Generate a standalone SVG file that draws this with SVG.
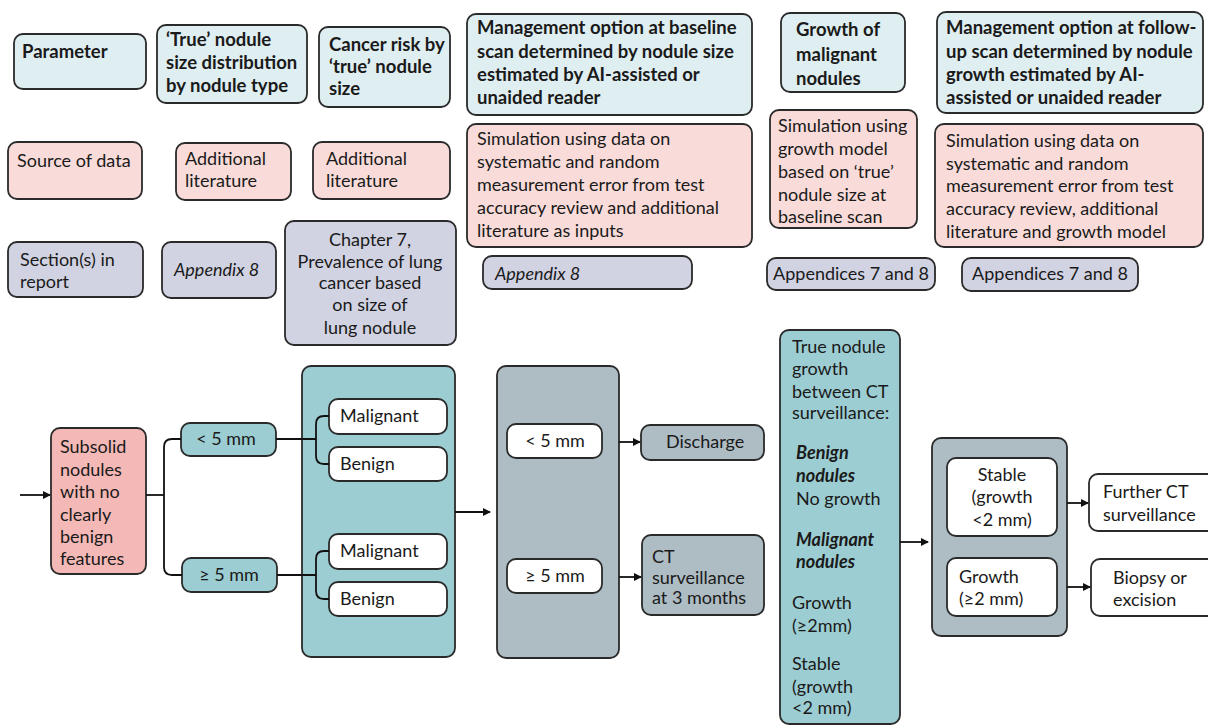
<svg xmlns="http://www.w3.org/2000/svg" width="1208" height="726" viewBox="0 0 1208 726">
<defs>
<marker id="ah" markerWidth="8" markerHeight="8" refX="7" refY="4" orient="auto" markerUnits="userSpaceOnUse">
<path d="M0,0 L8,4 L0,8 Z" fill="#111"/>
</marker>
<style>
.b{stroke:#2a2a2a;stroke-width:1.8}
.par{fill:#dfeef1}
.src{fill:#f9dcd9}
.sec{fill:#d1d3e2}
.teal{fill:#9ccdd2}
.gray{fill:#aebcc3}
.wh{fill:#ffffff}
.sub{fill:#f4b9b6}
text{font-family:Lato,"Noto Sans","Liberation Sans",sans-serif;font-size:18px;fill:#1a1a1a}
.bd{font-weight:bold;font-size:18.5px}
.it{font-style:italic}
.bi{font-weight:bold;font-style:italic}
.c{text-anchor:middle}
.ln{fill:none;stroke:#111;stroke-width:1.8}
</style>
</defs>
<rect width="1208" height="726" fill="#ffffff"/>

<!-- Row 1: parameters -->
<g id="p-parameter"><rect class="b par" x="14" y="34" width="132" height="55" rx="9"/><text class="bd" x="22" y="58">Parameter</text></g>
<g id="p-true"><rect class="b par" x="157" y="25" width="150" height="78" rx="9"/><text class="bd" x="166" y="46">‘True’ nodule<tspan x="166" y="69">size distribution</tspan><tspan x="166" y="92">by nodule type</tspan></text></g>
<g id="p-cancer"><rect class="b par" x="319" y="27" width="131" height="80" rx="9"/><text class="bd" x="329" y="51">Cancer risk by<tspan x="329" y="73">‘true’ nodule</tspan><tspan x="329" y="95">size</tspan></text></g>
<g id="p-mgmt1"><rect class="b par" x="467" y="14" width="285" height="101" rx="9"/><text class="bd" x="477" y="34">Management option at baseline<tspan x="477" y="58">scan determined by nodule size</tspan><tspan x="477" y="81">estimated by AI-assisted or</tspan><tspan x="477" y="104">unaided reader</tspan></text></g>
<g id="p-growth"><rect class="b par" x="781" y="13" width="124" height="79" rx="9"/><text class="bd" x="796" y="36">Growth of<tspan x="796" y="61">malignant</tspan><tspan x="796" y="85">nodules</tspan></text></g>
<g id="p-mgmt2"><rect class="b par" x="937" y="12" width="266" height="101" rx="9"/><text class="bd" x="946" y="34">Management option at follow-<tspan x="946" y="58">up scan determined by nodule</tspan><tspan x="946" y="81">growth estimated by AI-</tspan><tspan x="946" y="104">assisted or unaided reader</tspan></text></g>

<!-- Row 2: sources -->
<g id="s-source"><rect class="b src" x="8" y="142" width="134" height="57" rx="9"/><text x="17" y="167">Source of data</text></g>
<g id="s-lit1"><rect class="b src" x="176" y="143" width="115" height="57" rx="9"/><text x="185" y="165">Additional<tspan x="185" y="187">literature</tspan></text></g>
<g id="s-lit2"><rect class="b src" x="313" y="142" width="137" height="57" rx="9"/><text x="326" y="165">Additional<tspan x="326" y="187">literature</tspan></text></g>
<g id="s-sim1"><rect class="b src" x="467" y="124" width="285" height="123" rx="9"/><text x="477" y="145">Simulation using data on<tspan x="477" y="168">systematic and random</tspan><tspan x="477" y="191">measurement error from test</tspan><tspan x="477" y="214">accuracy review and additional</tspan><tspan x="477" y="237">literature as inputs</tspan></text></g>
<g id="s-sim2"><rect class="b src" x="770" y="110" width="147" height="118" rx="9"/><text x="778" y="132">Simulation using<tspan x="778" y="155">growth model</tspan><tspan x="778" y="178">based on ‘true’</tspan><tspan x="778" y="201">nodule size at</tspan><tspan x="778" y="223">baseline scan</tspan></text></g>
<g id="s-sim3"><rect class="b src" x="935" y="124" width="268" height="123" rx="9"/><text x="946" y="147">Simulation using data on<tspan x="946" y="170">systematic and random</tspan><tspan x="946" y="192">measurement error from test</tspan><tspan x="946" y="215">accuracy review, additional</tspan><tspan x="946" y="238">literature and growth model</tspan></text></g>

<!-- Row 3: sections -->
<g id="r-section"><rect class="b sec" x="8" y="242" width="135" height="55" rx="9"/><text x="20" y="266">Section(s) in<tspan x="20" y="288">report</tspan></text></g>
<g id="r-app8a"><rect class="b sec" x="162" y="242" width="114" height="56" rx="9"/><text class="it" x="174" y="276">Appendix 8</text></g>
<g id="r-ch7"><rect class="b sec" x="285" y="221" width="171" height="124" rx="9"/><text class="c" x="370" y="246">Chapter 7,<tspan x="370" y="268">Prevalence of lung</tspan><tspan x="370" y="289">cancer based</tspan><tspan x="370" y="311">on size of</tspan><tspan x="370" y="334">lung nodule</tspan></text></g>
<g id="r-app8b"><rect class="b sec" x="483" y="256" width="209" height="33" rx="9"/><text class="it" x="495" y="280">Appendix 8</text></g>
<g id="r-app78a"><rect class="b sec" x="767" y="258" width="168" height="32" rx="9"/><text class="c" x="851" y="280">Appendices 7 and 8</text></g>
<g id="r-app78b"><rect class="b sec" x="962" y="258" width="176" height="33" rx="9"/><text class="c" x="1050" y="280">Appendices 7 and 8</text></g>

<!-- Flow nodes -->
<g id="n-subsolid"><rect class="b sub" x="51" y="428" width="95" height="146" rx="9"/><text x="60" y="453">Subsolid<tspan x="60" y="476">nodules</tspan><tspan x="60" y="498">with no</tspan><tspan x="60" y="521">clearly</tspan><tspan x="60" y="543">benign</tspan><tspan x="60" y="565">features</tspan></text></g>
<g id="n-lt5"><rect class="b teal" x="181" y="423" width="95" height="33" rx="9"/><text class="c" x="226" y="445">&lt; 5 mm</text></g>
<g id="n-ge5"><rect class="b teal" x="182" y="558" width="95" height="34" rx="9"/><text class="c" x="229" y="581">≥ 5 mm</text></g>
<g id="n-truetype"><rect class="b teal" x="302" y="366" width="153" height="291" rx="9"/></g>
<g id="n-mal1"><rect class="b wh" x="329" y="399" width="118" height="35" rx="9"/><text x="340" y="422">Malignant</text></g>
<g id="n-ben1"><rect class="b wh" x="329" y="447" width="118" height="34" rx="9"/><text x="340" y="470">Benign</text></g>
<g id="n-mal2"><rect class="b wh" x="329" y="534" width="118" height="35" rx="9"/><text x="340" y="557">Malignant</text></g>
<g id="n-ben2"><rect class="b wh" x="329" y="582" width="118" height="34" rx="9"/><text x="340" y="605">Benign</text></g>
<g id="n-measured"><rect class="b gray" x="497" y="366" width="122" height="292" rx="9"/></g>
<g id="n-mlt5"><rect class="b wh" x="507" y="424" width="95" height="34" rx="9"/><text class="c" x="555" y="447">&lt; 5 mm</text></g>
<g id="n-mge5"><rect class="b wh" x="507" y="559" width="95" height="34" rx="9"/><text class="c" x="555" y="582">≥ 5 mm</text></g>
<g id="n-discharge"><rect class="b gray" x="641" y="425" width="123" height="35" rx="9"/><text x="666" y="448">Discharge</text></g>
<g id="n-ct3"><rect class="b gray" x="642" y="535" width="122" height="80" rx="9"/><text x="652" y="563">CT<tspan x="652" y="584">surveillance</tspan><tspan x="652" y="604">at 3 months</tspan></text></g>
<g id="n-truegrowth"><rect class="b teal" x="780" y="330" width="120" height="394" rx="9"/><text x="792" y="353">True nodule<tspan x="792" y="375">growth</tspan><tspan x="792" y="398">between CT</tspan><tspan x="792" y="419">surveillance:</tspan><tspan class="bi" x="796" y="459">Benign</tspan><tspan class="bi" x="796" y="482">nodules</tspan><tspan x="796" y="505">No growth</tspan><tspan class="bi" x="796" y="546">Malignant</tspan><tspan class="bi" x="796" y="568">nodules</tspan><tspan x="792" y="609">Growth</tspan><tspan x="792" y="632">(≥2mm)</tspan><tspan x="792" y="670">Stable</tspan><tspan x="792" y="693">(growth</tspan><tspan x="792" y="714">&lt;2 mm)</tspan></text></g>
<g id="n-measgrowth"><rect class="b gray" x="932" y="438" width="135" height="198" rx="9"/></g>
<g id="n-stable"><rect class="b wh" x="947" y="458" width="110" height="78" rx="9"/><text class="c" x="1002" y="481">Stable<tspan x="1002" y="503">(growth</tspan><tspan x="1002" y="526">&lt;2 mm)</tspan></text></g>
<g id="n-growth"><rect class="b wh" x="947" y="558" width="110" height="58" rx="9"/><text x="959" y="583">Growth<tspan x="959" y="605">(≥2 mm)</tspan></text></g>
<g id="n-further"><rect class="b wh" x="1089" y="474" width="130" height="57" rx="9"/><text x="1103" y="498">Further CT<tspan x="1103" y="521">surveillance</tspan></text></g>
<g id="n-biopsy"><rect class="b wh" x="1091" y="559" width="128" height="57" rx="9"/><text x="1113" y="584">Biopsy or<tspan x="1113" y="606">excision</tspan></text></g>

<!-- Connectors -->
<g id="connectors">
<path class="ln" d="M20,495 H50" marker-end="url(#ah)"/>
<path class="ln" d="M146,495 H164"/>
<path class="ln" d="M181,439 H172 Q164,439 164,447 V567 Q164,575 172,575 H182"/>
<path class="ln" d="M276,439 H316"/>
<path class="ln" d="M329,416 H324 Q316,416 316,424 V456 Q316,464 324,464 H329"/>
<path class="ln" d="M277,575 H316"/>
<path class="ln" d="M329,551 H324 Q316,551 316,559 V591 Q316,599 324,599 H329"/>
<path class="ln" d="M455,512 H490" marker-end="url(#ah)"/>
<path class="ln" d="M619,442 H640" marker-end="url(#ah)"/>
<path class="ln" d="M619,577 H641" marker-end="url(#ah)"/>
<path class="ln" d="M900,542 H928" marker-end="url(#ah)"/>
<path class="ln" d="M1067,503 H1088" marker-end="url(#ah)"/>
<path class="ln" d="M1067,587 H1090" marker-end="url(#ah)"/>
</g>
</svg>
